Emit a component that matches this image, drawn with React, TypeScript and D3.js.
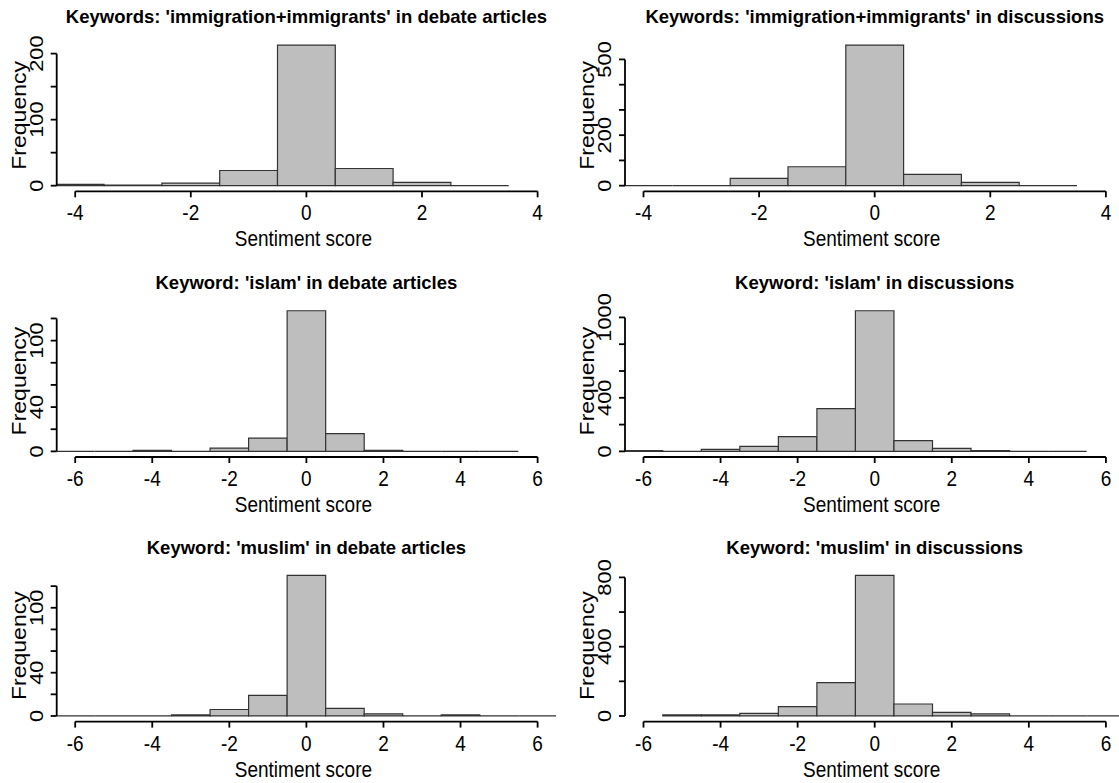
import React from "react";
import * as d3 from "d3";

// panel titles, row by row
const titles = [
  "Keywords: 'immigration+immigrants' in debate articles",
  "Keywords: 'immigration+immigrants' in discussions",
  "Keyword: 'islam' in debate articles",
  "Keyword: 'islam' in discussions",
  "Keyword: 'muslim' in debate articles",
  "Keyword: 'muslim' in discussions",
];

// bin centres (bins are 1 wide) and counts
const immigDebateBins = [-4, -3, -2, -1, 0, 1, 2, 3];
const immigDebateCounts = [2, 1, 4, 23, 213, 26, 5, 0];

const immigDiscBins = [-4, -3, -2, -1, 0, 1, 2, 3];
const immigDiscCounts = [0, 0, 29, 75, 557, 45, 13, 0];

const islamDebateBins = [-6, -5, -4, -3, -2, -1, 0, 1, 2, 3, 4, 5];
const islamDebateCounts = [0, 0, 1, 0, 3, 12, 127, 16, 1, 0, 0, 0];

const islamDiscBins = [-6, -5, -4, -3, -2, -1, 0, 1, 2, 3, 4, 5];
const islamDiscCounts = [5, 0, 15, 37, 110, 319, 1050, 80, 22, 5, 0, 0];

const muslimDebateBins = [-6, -5, -4, -3, -2, -1, 0, 1, 2, 3, 4, 5, 6];
const muslimDebateCounts = [0, 0, 0, 1, 6, 19, 130, 7, 2, 0, 1, 0, 0];

const muslimDiscBins = [-5, -4, -3, -2, -1, 0, 1, 2, 3, 4, 5, 6];
const muslimDiscCounts = [6, 6, 15, 54, 192, 812, 69, 21, 12, 0, 0, 0];

// x axis limits and ticks
const xlimNarrow = [-4, 4];
const xlimWide = [-6, 6];
const xTicksNarrow = [-4, -2, 0, 2, 4];
const xTicksWide = [-6, -4, -2, 0, 2, 4, 6];

// y ticks and the labels R kept (the others overlap and get dropped)
const yTicks1 = [0, 50, 100, 150, 200];
const yLabels1 = [0, 100, 200];
const yTicks2 = [0, 100, 200, 300, 400, 500];
const yLabels2 = [0, 200, 500];
const yTicks3 = [0, 20, 40, 60, 80, 100, 120];
const yLabels3 = [0, 40, 100];
const yTicks4 = [0, 200, 400, 600, 800, 1000];
const yLabels4 = [0, 400, 1000];
const yTicks5 = [0, 20, 40, 60, 80, 100, 120];
const yLabels5 = [0, 40, 100];
const yTicks6 = [0, 200, 400, 600, 800];
const yLabels6 = [0, 400, 800];

const panels = [
  { bins: immigDebateBins, counts: immigDebateCounts, xlim: xlimNarrow, xTicks: xTicksNarrow, yTicks: yTicks1, yLabels: yLabels1 },
  { bins: immigDiscBins, counts: immigDiscCounts, xlim: xlimNarrow, xTicks: xTicksNarrow, yTicks: yTicks2, yLabels: yLabels2 },
  { bins: islamDebateBins, counts: islamDebateCounts, xlim: xlimWide, xTicks: xTicksWide, yTicks: yTicks3, yLabels: yLabels3 },
  { bins: islamDiscBins, counts: islamDiscCounts, xlim: xlimWide, xTicks: xTicksWide, yTicks: yTicks4, yLabels: yLabels4 },
  { bins: muslimDebateBins, counts: muslimDebateCounts, xlim: xlimWide, xTicks: xTicksWide, yTicks: yTicks5, yLabels: yLabels5 },
  { bins: muslimDiscBins, counts: muslimDiscCounts, xlim: xlimWide, xTicks: xTicksWide, yTicks: yTicks6, yLabels: yLabels6 },
];

const W = 1119;
const H = 783;
const plotW = 499.4;
const plotH = 151.9;
const colLeft = [56.7, 625];
const rowTop = [39.4, 305.1, 569.7];

const FONT = "'Liberation Sans', Arial, Helvetica, sans-serif";
const STRETCH = 1.15; // the R text looks a bit taller than it is wide

const Panel = ({ idx, title, bins, counts, xlim, xTicks, yTicks, yLabels }) => {
  const left = colLeft[idx % 2];
  const top = rowTop[Math.floor(idx / 2)];
  const pad = 0.04 * (xlim[1] - xlim[0]);
  const x = d3.scaleLinear().domain([xlim[0] - pad, xlim[1] + pad]).range([left, left + plotW]);
  const maxC = d3.max(counts);
  const y = d3.scaleLinear().domain([-0.04 * maxC, 1.04 * maxC]).range([top + plotH, top]);
  const axisY = top + plotH;
  const clipId = `clip-${idx}`;
  const ylast = yTicks[yTicks.length - 1];

  return (
    <g>
      <clipPath id={clipId}>
        <rect x={left} y={top} width={plotW} height={plotH} />
      </clipPath>
      <text
        transform={`translate(${left + plotW / 2},${top - 16})`}
        textAnchor="middle"
        fontFamily={FONT}
        fontWeight="bold"
        fontSize={18.5}
        fill="#000"
      >
        {title}
      </text>
      <g clipPath={`url(#${clipId})`}>
        {bins.map((c, i) => {
          const x0 = x(c - 0.5);
          const x1 = x(c + 0.5);
          const y0 = y(0);
          const y1 = y(counts[i]);
          return (
            <path
              key={i}
              d={`M${x0},${y0}H${x1}V${y1}H${x0}Z`}
              fill="#BEBEBE"
              stroke="#333"
              strokeWidth={1.2}
            />
          );
        })}
      </g>
      {/* x axis */}
      <line x1={x(xTicks[0])} x2={x(xTicks[xTicks.length - 1])} y1={axisY} y2={axisY} stroke="#000" strokeWidth={1.8} />
      {xTicks.map((t) => (
        <g key={t}>
          <line x1={x(t)} x2={x(t)} y1={axisY} y2={axisY + 6} stroke="#000" strokeWidth={1.8} />
          <text
            transform={`translate(${x(t)},${axisY + 29}) scale(1,${STRETCH})`}
            textAnchor="middle"
            fontFamily={FONT}
            fontSize={19}
          >
            {String(t)}
          </text>
        </g>
      ))}
      <text
        transform={`translate(${left + plotW / 2 - 3},${axisY + 55}) scale(1,${STRETCH})`}
        textAnchor="middle"
        fontFamily={FONT}
        fontSize={19}
      >
        Sentiment score
      </text>
      {/* y axis */}
      <line x1={left} x2={left} y1={y(0)} y2={y(ylast)} stroke="#000" strokeWidth={1.8} />
      {yTicks.map((t) => (
        <line key={t} x1={left - 6} x2={left} y1={y(t)} y2={y(t)} stroke="#000" strokeWidth={1.8} />
      ))}
      {yLabels.map((t) => (
        <text
          key={t}
          transform={`translate(${left - 14},${y(t)}) scale(1,${STRETCH}) rotate(-90)`}
          textAnchor="middle"
          fontFamily={FONT}
          fontSize={19}
        >
          {String(t)}
        </text>
      ))}
      <text
        transform={`translate(${left - 31},${top + plotH / 2}) scale(1,${STRETCH}) rotate(-90)`}
        textAnchor="middle"
        fontFamily={FONT}
        fontSize={20}
      >
        Frequency
      </text>
    </g>
  );
};

export default function App() {
  return (
    <div style={{ position: "absolute", left: 0, top: 0 }}>
      <svg width={W} height={H} viewBox={`0 0 ${W} ${H}`} style={{ display: "block", background: "#fff" }}>
        <rect x={0} y={0} width={W} height={H} fill="#fff" />
        {panels.map((p, i) => (
          <Panel key={i} idx={i} title={titles[i]} {...p} />
        ))}
      </svg>
    </div>
  );
}
